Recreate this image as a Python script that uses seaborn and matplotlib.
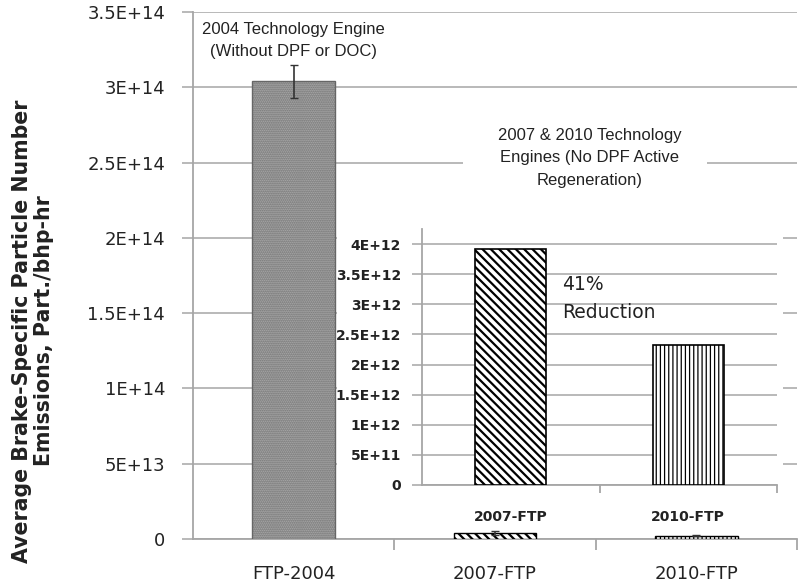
import matplotlib
matplotlib.use("Agg")
import matplotlib.pyplot as plt
import seaborn as sns
import numpy as np
from matplotlib.patches import Rectangle

# ---- data ----
main_cats = ["FTP-2004", "2007-FTP", "2010-FTP"]
main_vals = [3.04e14, 3.92e12, 2.32e12]
main_err = [1.1e13, 1.5e12, 0.6e12]
main_yticks = [0, 5e13, 1e14, 1.5e14, 2e14, 2.5e14, 3e14, 3.5e14]
main_yticklabels = ["0", "5E+13", "1E+14", "1.5E+14", "2E+14", "2.5E+14", "3E+14", "3.5E+14"]

inset_cats = ["2007-FTP", "2010-FTP"]
inset_vals = [3.92e12, 2.32e12]
inset_yticks = [0, 5e11, 1e12, 1.5e12, 2e12, 2.5e12, 3e12, 3.5e12, 4e12]
inset_yticklabels = ["0", "5E+11", "1E+12", "1.5E+12", "2E+12", "2.5E+12", "3E+12", "3.5E+12", "4E+12"]

sns.set_theme(style="white")
plt.rcParams["font.family"] = ["DejaVu Sans"]
plt.rcParams["hatch.linewidth"] = 1.0

W, H = 800, 583
fig = plt.figure(figsize=(8, 5.83), dpi=100)

def fx(px):
    return px / W

def fy(py):
    return (H - py) / H

def set_hlw(p, lw):
    if hasattr(p, "set_hatch_linewidth"):
        p.set_hatch_linewidth(lw)
    else:
        p._hatch_linewidth = lw

grid_c = "#b3b3b3"
spine_c = "#a6a6a6"
txt_c = "#222222"

# ---- main axes ----
ax = fig.add_axes([fx(193), fy(539), fx(797) - fx(193), fy(12) - fy(539)])
ax.set_zorder(0)
sns.barplot(x=main_cats, y=main_vals, hue=main_cats, legend=False, ax=ax,
            palette=["#b4b4b4", "white", "white"], width=0.41,
            edgecolor="#333333", linewidth=1.0, zorder=3)
main_hatches = ["........", "\\\\\\\\", "||||"]
main_edges = ["#666666", "black", "black"]
main_hlw = [1.0, 1.6, 0.9]
for p, h, ec, lw in zip(ax.patches, main_hatches, main_edges, main_hlw):
    p.set_hatch(h)
    p.set_edgecolor(ec)
    set_hlw(p, lw)
ax.errorbar(range(len(main_cats)), main_vals, yerr=main_err, fmt="none",
            ecolor="#333333", elinewidth=1.2, capsize=3, zorder=4)
ax.set_xlim(-0.5, 2.5)
ax.set_ylim(0, 3.5e14)
ax.set_yticks(main_yticks, main_yticklabels)
ax.yaxis.grid(True, color=grid_c, linewidth=1.3)
ax.set_axisbelow(True)
for s in ["top", "right"]:
    ax.spines[s].set_visible(False)
for s in ["left", "bottom"]:
    ax.spines[s].set_color(spine_c)
    ax.spines[s].set_linewidth(1.3)
ax.tick_params(axis="y", which="major", left=True, length=8, color=grid_c,
               width=1.3, labelsize=13, labelcolor=txt_c, pad=12)
ax.tick_params(axis="x", which="major", bottom=False, labelsize=13,
               labelcolor=txt_c, pad=13)
ax.set_xticks([0.5, 1.5, 2.5], minor=True)
ax.tick_params(axis="x", which="minor", bottom=True, length=8, color=spine_c, width=1.3)
ax.set_xlabel("")
ax.set_ylabel("")

fig.text(fx(33), fy(331), "Average Brake-Specific Particle Number\nEmissions, Part./bhp-hr",
         rotation=90, ha="center", va="center", fontsize=14.8, fontweight="bold",
         color=txt_c, linespacing=1.15)

ax.text(0.0, 3.31e14, "2004 Technology Engine\n(Without DPF or DOC)",
        ha="center", va="center", fontsize=12, family=["Liberation Sans"],
        color=txt_c, linespacing=1.55, zorder=5)

# white backgrounds behind inset and its caption
fig.add_artist(Rectangle((fx(337), fy(528)), fx(783) - fx(337), fy(200) - fy(528),
                         transform=fig.transFigure, facecolor="white",
                         edgecolor="none", zorder=0.5))
fig.add_artist(Rectangle((fx(463), fy(200)), fx(707) - fx(463), fy(118) - fy(200),
                         transform=fig.transFigure, facecolor="white",
                         edgecolor="none", zorder=0.5))
fig.text(fx(590), fy(158), "2007 & 2010 Technology\nEngines (No DPF Active\nRegeneration)",
         ha="center", va="center", fontsize=12, family=["Liberation Sans"],
         color=txt_c, linespacing=1.65, zorder=5)

# ---- inset axes ----
ia = fig.add_axes([fx(422), fy(485), fx(777) - fx(422), fy(229) - fy(485)])
ia.set_zorder(1)
ia.patch.set_alpha(0)
sns.barplot(x=inset_cats, y=inset_vals, hue=inset_cats, legend=False, ax=ia,
            palette=["white", "white"], width=0.40,
            edgecolor="black", linewidth=1.2, zorder=3)
for p, h, lw in zip(ia.patches, ["\\\\\\\\", "||||"], [1.6, 0.9]):
    p.set_hatch(h)
    set_hlw(p, lw)
ia.set_xlim(-0.5, 1.5)
ia.set_ylim(0, 4.25e12)
ia.set_yticks(inset_yticks, inset_yticklabels)
ia.yaxis.grid(True, color=grid_c, linewidth=1.3)
ia.set_axisbelow(True)
for s in ["top", "right"]:
    ia.spines[s].set_visible(False)
for s in ["left", "bottom"]:
    ia.spines[s].set_color(spine_c)
    ia.spines[s].set_linewidth(1.3)
ia.tick_params(axis="y", which="major", left=True, length=7, color=grid_c, width=1.3,
               labelsize=10, labelcolor=txt_c, pad=8)
ia.tick_params(axis="x", which="major", bottom=False, labelsize=10,
               labelcolor=txt_c, pad=12)
for t in ia.get_yticklabels() + ia.get_xticklabels():
    t.set_fontweight("bold")
ia.set_xticks([0.5, 1.5], minor=True)
ia.tick_params(axis="x", which="minor", bottom=True, length=6, color=spine_c, width=1.3)
ia.set_xlabel("")
ia.set_ylabel("")

ia.text(0.29, 3.09e12, "41%\nReduction", ha="left", va="center", fontsize=13.5,
        color=txt_c, linespacing=1.6, zorder=5)

fig.savefig("out.png", dpi=100)
